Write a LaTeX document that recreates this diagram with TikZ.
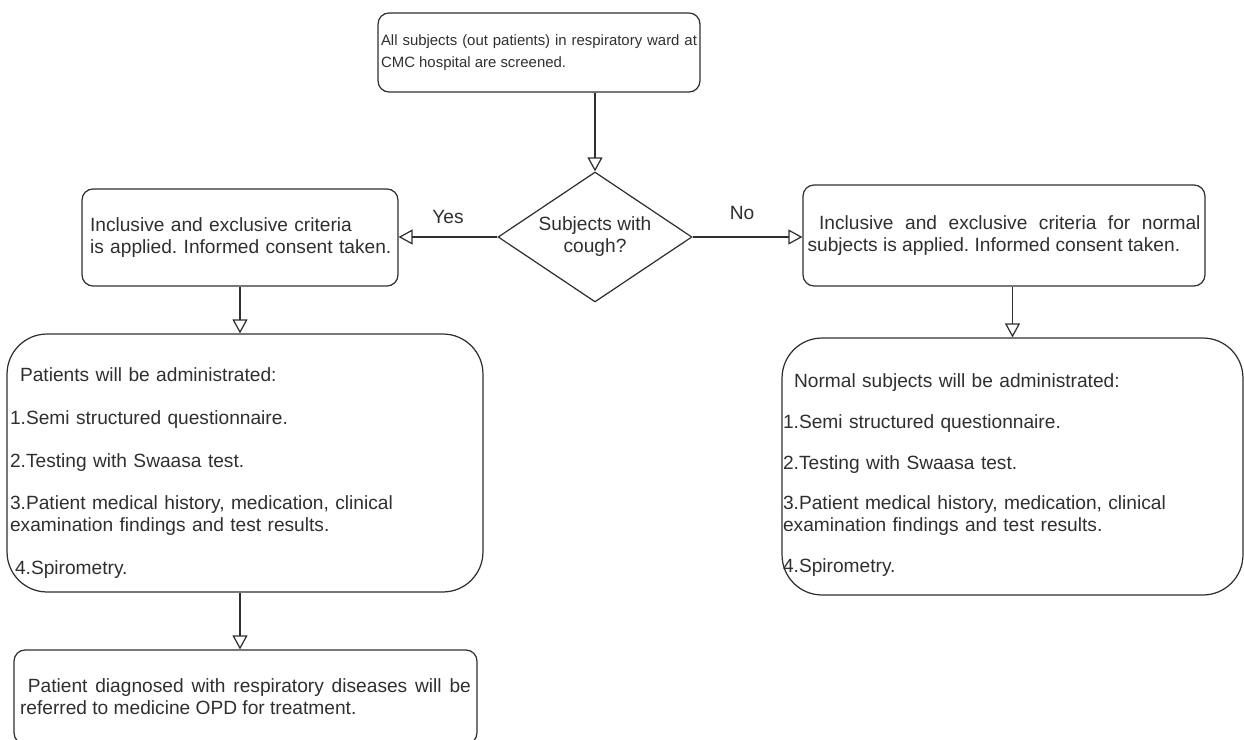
\documentclass[tikz,border=0pt]{standalone}
\usepackage{fontspec}
\setmainfont{Liberation Sans}
\frenchspacing
\usetikzlibrary{shapes.geometric,arrows.meta}
\definecolor{inkgray}{HTML}{2F2F2F}
\tikzset{
	flowbox/.style={draw=inkgray,rounded corners=0.22cm,align=justify,inner ysep=0pt},
	bigbox/.style={draw=inkgray,rounded corners=0.8cm,align=left,inner ysep=0pt},
	flowarrow/.style={draw=inkgray,-{Triangle[open,length=0.28cm,width=0.3cm]}}
}

\begin{document}
\begin{tikzpicture}[x=0.02cm,y=-0.02cm,line width=0.7pt,text=inkgray,font=\fontsize{10.9}{12.5}\selectfont]
	\clip (0,0) rectangle (1244,740);
	%TOP BOX AND DECISION
	\node[flowbox,font=\fontsize{8.5}{12.5}\selectfont,text width=6.32cm,inner xsep=0.06cm,minimum height=1.58cm] (screen) at (539,52.5) {All subjects (out patients) in respiratory ward at\linebreak CMC hospital are screened.};
	\node[diamond,draw=inkgray,aspect=1.5,minimum width=3.88cm,minimum height=2.6cm,inner sep=0pt,align=center] (cough) at (595,237) {Subjects with\\cough?};
	\draw[flowarrow] (screen.south -| cough.north) -- (cough.north);

	%CRITERIA BOXES
	\node[flowbox,align=left,text width=6.2cm,inner xsep=0.06cm,minimum height=1.94cm] (critA) at (240,237.5) {\hspace*{0.1cm}Inclusive and exclusive criteria\\\hspace*{0.1cm}is applied. Informed consent taken.};
	\node[flowbox,text width=7.86cm,inner xsep=0.09cm,minimum height=2.02cm] (critB) at (1004,235.5) {\ Inclusive and exclusive criteria for normal\linebreak subjects is applied. Informed consent taken.};
	\draw[flowarrow] (cough.west) -- (cough.west -| critA.east);
	\draw[flowarrow] (cough.east) -- (cough.east -| critB.west);
	\node (yes) at (448,217) {Yes};
	\node (no) at (742,213) {No};

	%ADMINISTRATION BOXES
	\node[bigbox,text width=9.4cm,inner xsep=0.06cm,minimum height=5.16cm] (adminA) at (245,463) {\rule{0pt}{0.68cm}\hspace*{0.2cm}Patients will be administrated:\\[0.42cm]
		1.Semi structured questionnaire.\\[0.42cm]
		2.Testing with Swaasa test.\\[0.42cm]
		3.Patient medical history, medication, clinical\\examination findings and test results.\\[0.42cm]
		\hspace*{0.1cm}4.Spirometry.};
	\node[bigbox,text width=9.18cm,inner xsep=0.02cm,minimum height=5.14cm] (adminB) at (1012.5,466.5) {\rule{0pt}{0.62cm}\hspace*{0.22cm}Normal subjects will be administrated:\\[0.38cm]
		1.Semi structured questionnaire.\\[0.38cm]
		2.Testing with Swaasa test.\\[0.38cm]
		3.Patient medical history, medication, clinical\\examination findings and test results.\\[0.38cm]
		4.Spirometry.};
	\draw[flowarrow] (critA.south) -- (critA.south |- adminA.north);
	\draw[flowarrow] (adminB.north |- critB.south) -- (adminB.north);

	%REFERRAL BOX
	\node[flowbox,text width=9.02cm,inner xsep=0.12cm,minimum height=1.88cm] (refer) at (245.5,697) {\ Patient diagnosed with respiratory diseases will be\linebreak referred to medicine OPD for treatment.};
	\draw[flowarrow] (critA.south |- adminA.south) -- (critA.south |- refer.north);
\end{tikzpicture}
\end{document}
